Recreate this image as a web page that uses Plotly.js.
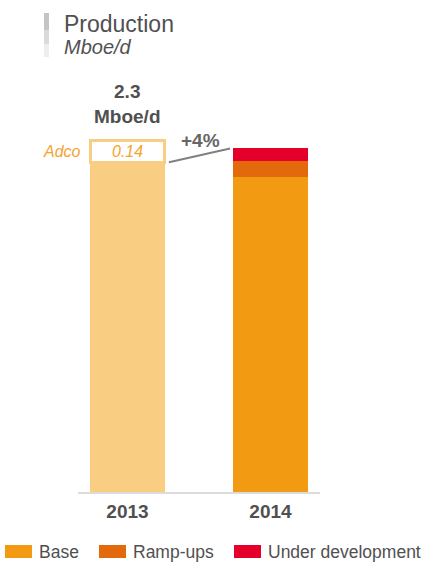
<!DOCTYPE html>
<html><head><meta charset="utf-8">
<script src="https://cdn.plot.ly/plotly-3.0.1.min.js"></script>
<style>html,body{margin:0;padding:0;background:#fff}#chart{width:429px;height:565px}</style>
</head><body><div id="chart"></div>
<script>
// ---- data ----
const years = ['2013', '2014'];
const baseValues = [2.16, 2.06];
const adcoValue = [0.14];
const rampUps = [0.11];
const underDev = [0.08];
const seriesNames = ['Base', 'Ramp-ups', 'Under development'];
const titleText = 'Production';
const unitText = 'Mboe/d';

// ---- styles ----
const cLight = '#F9CD82', cBase = '#F29A12', cRamp = '#E2690C', cDev = '#E4002B';
const cText = '#505050', cAdco = '#F5A32E';
const FONT = 'Liberation Sans, Arial, Helvetica, sans-serif';
const L = 78, R = 109, T = 95, B = 73, W = 429, H = 565;
const pw = W - L - R, ph = H - T - B;
const px = v => (v - L) / pw;
const py = v => (H - B - v) / ph;

const total2013 = baseValues[0] + adcoValue[0];
const total2014 = baseValues[1] + rampUps[0] + underDev[0];
const growth = Math.round((total2014 / baseValues[0] - 1) * 100);

const bw = 0.52;
const traces = [
  {type: 'bar', x: years, y: baseValues, name: seriesNames[0], width: bw,
   marker: {color: [cLight, cBase]}, hoverinfo: 'none'},
  {type: 'bar', x: [years[0]], y: adcoValue, name: 'Adco', width: bw,
   marker: {color: '#ffffff', line: {color: cLight, width: 3}}, hoverinfo: 'none'},
  {type: 'bar', x: [years[1]], y: rampUps, name: seriesNames[1], width: bw,
   marker: {color: cRamp}, hoverinfo: 'none'},
  {type: 'bar', x: [years[1]], y: underDev, name: seriesNames[2], width: bw,
   marker: {color: cDev}, hoverinfo: 'none'}
];

const legendColors = [cBase, cRamp, cDev];
const legendSwatchX = [5, 99, 234];
const shapes = [
  {type: 'line', xref: 'x', yref: 'y', x0: 0.29, x1: 0.717, y0: baseValues[0], y1: total2014,
   line: {color: '#808080', width: 2}},
  {type: 'rect', xref: 'paper', yref: 'paper', x0: px(44), x1: px(49), y0: py(13), y1: py(30),
   fillcolor: '#c4c4c4', line: {width: 0}},
  {type: 'rect', xref: 'paper', yref: 'paper', x0: px(44), x1: px(49), y0: py(30), y1: py(44),
   fillcolor: '#dadada', line: {width: 0}},
  {type: 'rect', xref: 'paper', yref: 'paper', x0: px(44), x1: px(49), y0: py(44), y1: py(57),
   fillcolor: '#eeeeee', line: {width: 0}}
];
legendColors.forEach((c, i) => {
  shapes.push({type: 'rect', xref: 'paper', yref: 'paper',
    x0: px(legendSwatchX[i]), x1: px(legendSwatchX[i] + 27), y0: py(558), y1: py(545),
    fillcolor: c, line: {width: 0}});
});

const annotations = [
  {xref: 'paper', yref: 'paper', x: px(62), y: py(24), xanchor: 'left', yanchor: 'middle',
   text: titleText, showarrow: false, font: {family: FONT, size: 23, color: cText}},
  {xref: 'paper', yref: 'paper', x: px(62), y: py(47), xanchor: 'left', yanchor: 'middle',
   text: '<i>' + unitText + '</i>', showarrow: false, font: {family: FONT, size: 20, color: cText}},
  {xref: 'x', yref: 'y', x: 0, y: total2013, yanchor: 'bottom', yshift: 12,
   text: '<b>' + total2013.toFixed(1) + '<br>' + unitText + '</b>', showarrow: false,
   font: {family: FONT, size: 19, color: cText}},
  {xref: 'x', yref: 'y', x: 0.507, y: (baseValues[0] + total2014) / 2, yanchor: 'bottom', yshift: 2,
   text: '<b>+' + growth + '%</b>', showarrow: false, font: {family: FONT, size: 19, color: '#666666'}},
  {xref: 'x', yref: 'y', x: -0.31, y: baseValues[0] + adcoValue[0] / 2, xanchor: 'right', yanchor: 'middle',
   text: '<i>Adco</i>', showarrow: false, font: {family: FONT, size: 16, color: cAdco}},
  {xref: 'x', yref: 'y', x: 0, y: baseValues[0] + adcoValue[0] / 2, yanchor: 'middle',
   text: '<i>' + adcoValue[0].toFixed(2) + '</i>', showarrow: false, font: {family: FONT, size: 16, color: cAdco}}
];
seriesNames.forEach((n, i) => {
  annotations.push({xref: 'paper', yref: 'paper', x: px(legendSwatchX[i] + 32), y: py(551.5),
    xanchor: 'left', yanchor: 'middle', text: n, showarrow: false,
    font: {family: FONT, size: 17.5, color: cText}});
});

const layout = {
  width: W, height: H, margin: {l: L, r: R, t: T, b: B, pad: 0},
  paper_bgcolor: '#ffffff', plot_bgcolor: '#ffffff',
  barmode: 'stack', showlegend: false, font: {family: FONT, color: cText},
  xaxis: {type: 'category', range: [-0.346, 1.346], showgrid: false, zeroline: false,
    showline: true, linecolor: '#dcdcdc', linewidth: 2, ticks: '',
    tickfont: {family: FONT, size: 19, color: cText, weight: 'bold'}, ticklabelstandoff: 1},
  yaxis: {range: [0, 2.6], visible: false, showgrid: false, zeroline: false},
  shapes: shapes, annotations: annotations
};

Plotly.newPlot('chart', traces, layout, {staticPlot: true, displayModeBar: false});
</script>
</body></html>
